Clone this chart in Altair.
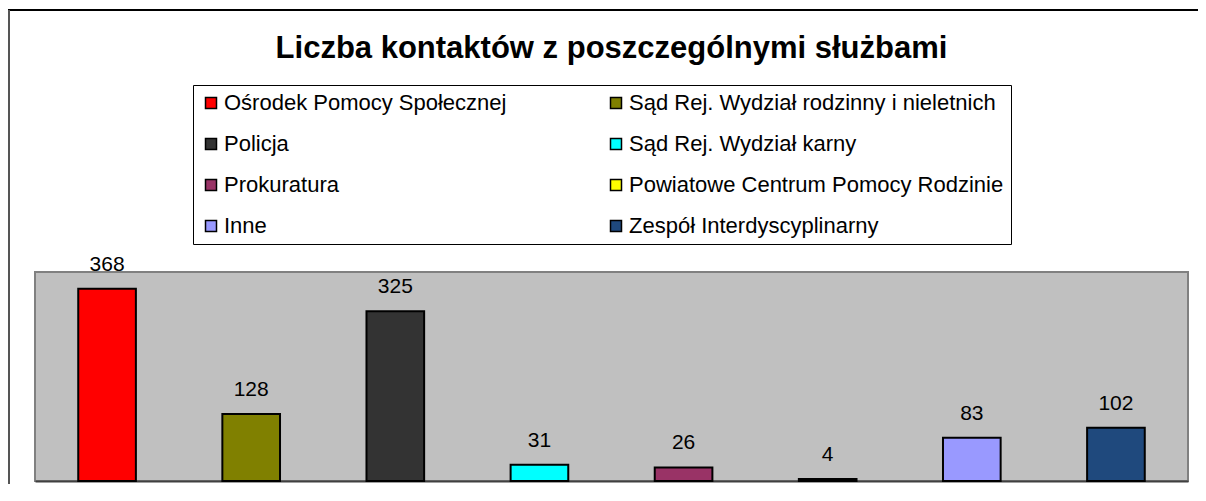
import altair as alt
import pandas as pd

categories = [
    "Ośrodek Pomocy Społecznej",
    "Sąd Rej. Wydział rodzinny i nieletnich",
    "Policja",
    "Sąd Rej. Wydział karny",
    "Prokuratura",
    "Powiatowe Centrum Pomocy Rodzinie",
    "Inne",
    "Zespół Interdyscyplinarny",
]
values = [368, 128, 325, 31, 26, 4, 83, 102]
colors = ["#FF0000", "#808000", "#333333", "#00FFFF", "#993366", "#FFFF00", "#9999FF", "#1F497D"]

df = pd.DataFrame({"kategoria": categories, "liczba": values})

FONT = "Liberation Sans"

x_enc = alt.X(
    "kategoria:N",
    sort=categories,
    scale=alt.Scale(paddingInner=0.6, paddingOuter=0.3),
    axis=alt.Axis(labels=False, ticks=False, title=None, domainColor="#404040", domainWidth=2, grid=False),
)
y_enc = alt.Y("liczba:Q", scale=alt.Scale(domain=[0, 400]), axis=None)

bars = alt.Chart(df).mark_bar(stroke="black", strokeWidth=2).encode(
    x=x_enc,
    y=y_enc,
    color=alt.Color(
        "kategoria:N",
        sort=categories,
        scale=alt.Scale(domain=categories, range=colors),
        legend=alt.Legend(
            title=None,
            orient="none",
            legendX=158,
            legendY=-187,
            columns=2,
            direction="horizontal",
            symbolType="square",
            symbolSize=121,
            symbolStrokeColor="black",
            symbolStrokeWidth=1.5,
            labelFont=FONT,
            labelFontSize=22,
            labelColor="black",
            labelOffset=2,
            labelLimit=500,
            rowPadding=19,
            columnPadding=98,
            padding=7,
            strokeColor="black",
            fillColor="white",
        ),
    ),
)

labels = alt.Chart(df).mark_text(
    font=FONT, fontSize=21, color="black", baseline="alphabetic", dy=-18
).encode(
    x=alt.X("kategoria:N", sort=categories),
    y=alt.Y("liczba:Q"),
    text=alt.Text("liczba:Q"),
)

# outer chart frame (top and left edges)
frame_top = alt.Chart(df).mark_rule(color="black", strokeWidth=2).encode(
    x=alt.value(-27), x2=alt.value(1163), y=alt.value(-262), y2=alt.value(-262)
)
frame_left = alt.Chart(df).mark_rect(color="#555555").encode(
    x=alt.value(-27), x2=alt.value(-25), y=alt.value(-262), y2=alt.value(212)
)

chart = (
    alt.layer(frame_top, frame_left, bars, labels)
    .properties(
        width=1153,
        height=209,
        autosize=alt.AutoSizeParams(type="none"),
        padding={"left": 27, "top": 264, "right": 10, "bottom": 3},
        title=alt.Title(
            "Liczba kontaktów z poszczególnymi służbami",
            font=FONT,
            fontSize=31,
            fontWeight="bold",
            color="black",
            anchor="middle",
            baseline="alphabetic",
            offset=0,
            dy=80,
        ),
    )
    .configure(background="white", view=alt.ViewConfig(fill="#C0C0C0", stroke="#808080", strokeWidth=2))
)

chart.save("out.html", embed_options={"renderer": "svg", "actions": False})
